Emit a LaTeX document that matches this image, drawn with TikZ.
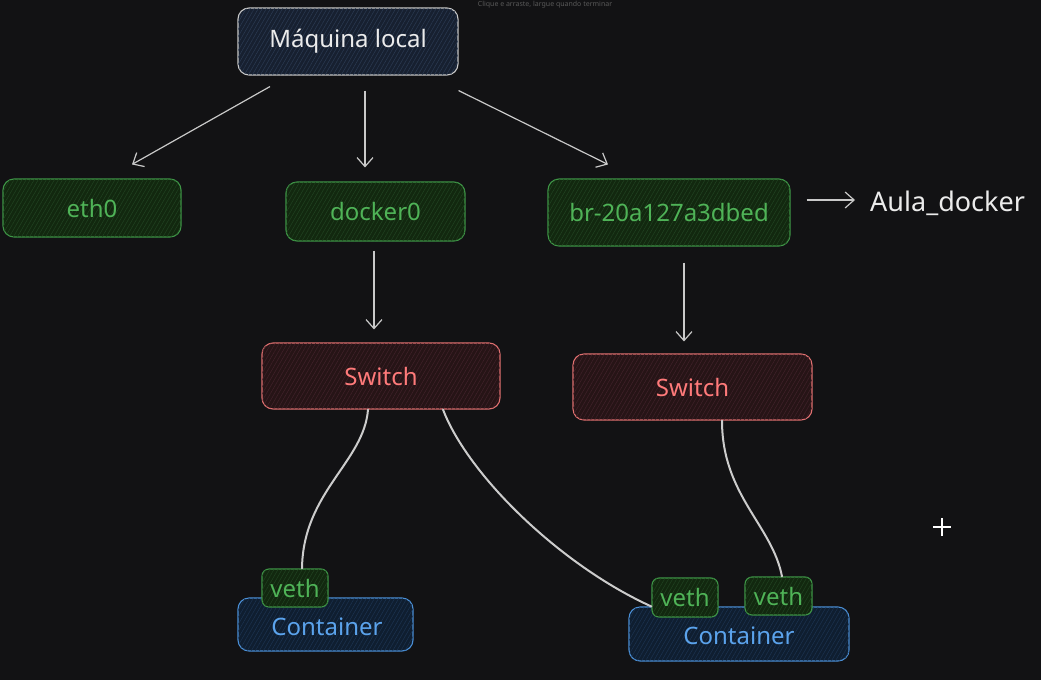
\documentclass[tikz,border=0pt]{standalone}
\usepackage{fontspec}
\setmainfont{Noto Sans}
\usetikzlibrary{arrows.meta,patterns.meta}
\definecolor{bgc}{HTML}{121214}
\definecolor{linec}{HTML}{C9C9C9}
\definecolor{mqfill}{HTML}{172030}
\definecolor{mqhatch}{HTML}{2B3A52}
\definecolor{grborder}{HTML}{3E9646}
\definecolor{grtext}{HTML}{4FB357}
\definecolor{grfill}{HTML}{12280F}
\definecolor{grhatch}{HTML}{214222}
\definecolor{rdborder}{HTML}{E07070}
\definecolor{rdtext}{HTML}{FF7A7A}
\definecolor{rdfill}{HTML}{261416}
\definecolor{rdhatch}{HTML}{40222A}
\definecolor{blborder}{HTML}{4A8FD6}
\definecolor{bltext}{HTML}{5BA3EC}
\definecolor{blfill}{HTML}{0F1E30}
\definecolor{blhatch}{HTML}{1C3350}
\tikzset{
  bigfont/.style={font=\fontsize{24}{28}\selectfont},
  box/.style={draw, rounded corners=11pt, line width=1.1pt, inner sep=0pt, bigfont},
  hatch/.style={postaction={pattern={Lines[angle=60,distance=3.5pt,line width=0.5pt]}, pattern color=#1}},
  mqbox/.style={box, draw=linec, fill=mqfill, hatch=mqhatch, text=white!92!black},
  grbox/.style={box, draw=grborder, fill=grfill, hatch=grhatch, text=grtext},
  rdbox/.style={box, draw=rdborder, fill=rdfill, hatch=rdhatch, text=rdtext},
  blbox/.style={box, draw=blborder, fill=blfill, hatch=blhatch, text=bltext},
  vbox/.style={grbox, rounded corners=7pt},
  arr/.style={draw=linec, line width=1.2pt, -{Straight Barb[length=9pt,width=16pt,line width=1.2pt]}},
  wire/.style={draw=linec!95!white, line width=2pt, line cap=round},
}
\begin{document}
\begin{tikzpicture}[x=1pt,y=-1pt]
\fill[bgc] (0,0) rectangle (1041,680);
\useasboundingbox (0,0) rectangle (1041,680);

\node[text=white!35!black, font=\fontsize{7}{8}\selectfont, inner sep=0pt, anchor=north] (hint) at (545,0.5) {Clique e arraste, largue quando terminar};

\node[mqbox, minimum width=220pt, minimum height=67pt] (mq) at (348,41.5) {Máquina local};
\node[grbox, minimum width=178pt, minimum height=58pt] (eth) at (92,208) {eth0};
\node[grbox, minimum width=179pt, minimum height=59pt] (dock) at (375.5,211.5) {docker0};
\node[grbox, minimum width=242pt, minimum height=67pt] (br) at (669,212.5) {br-20a127a3dbed};
\node[text=white!92!black, font=\fontsize{27}{31}\selectfont, anchor=west, inner sep=0pt] (aula) at (870,203) {Aula\_docker};

\node[rdbox, minimum width=238pt, minimum height=66pt] (sw1) at (381,376) {Switch};
\node[rdbox, minimum width=239pt, minimum height=66pt] (sw2) at (692.5,387) {Switch};

\node[blbox, minimum width=175pt, minimum height=53pt] (c1) at (325.5,624.5) {};
\node[text=bltext, bigfont] (c1t) at (327,627) {Container};
\node[blbox, minimum width=220pt, minimum height=54pt] (c2) at (739,634) {};
\node[text=bltext, bigfont] (c2t) at (739,636) {Container};

\node[vbox, minimum width=66pt, minimum height=38pt] (v1) at (295,588) {veth};
\node[vbox, minimum width=66pt, minimum height=39pt] (v2) at (685,597.5) {veth};
\node[vbox, minimum width=67pt, minimum height=38pt] (v3) at (778.5,596) {veth};

% arrows
\draw[arr] ([xshift=-78pt,yshift=-11pt]mq.south) -- ([xshift=40pt,yshift=14pt]eth.north);
\draw[arr] ([xshift=17pt,yshift=-15pt]mq.south) -- ([xshift=-10.5pt,yshift=14pt]dock.north);
\draw[arr] ([yshift=-15pt]mq.south east) -- ([xshift=-61pt,yshift=14pt]br.north);
\draw[arr] ([xshift=-1.5pt,yshift=-9pt]dock.south) -- ([xshift=-7pt,yshift=13pt]sw1.north);
\draw[arr] ([xshift=15pt,yshift=-16pt]br.south) -- ([xshift=-8.5pt,yshift=12pt]sw2.north);
\draw[arr] ([xshift=16pt,yshift=12.5pt]br.east) -- ([xshift=-15pt,yshift=3pt]aula.west);

% wires
\draw[wire] ([xshift=-13pt]sw1.south) .. controls (364,462) and (303,492) .. ([xshift=7pt]v1.north);
\draw[wire] ([xshift=62pt]sw1.south) .. controls (468,475) and (560,565) .. ([yshift=-9pt]v2.west);
\draw[wire] ([xshift=29.5pt]sw2.south) .. controls (722,495) and (772,525) .. ([xshift=3.5pt]v3.north);

% cursor
\coordinate (cur) at (942,527);
\draw[white, line width=1.3pt] ([xshift=-9pt]cur) -- ([xshift=9pt]cur);
\draw[white, line width=1.3pt] ([yshift=-9pt]cur) -- ([yshift=9pt]cur);
\end{tikzpicture}
\end{document}
